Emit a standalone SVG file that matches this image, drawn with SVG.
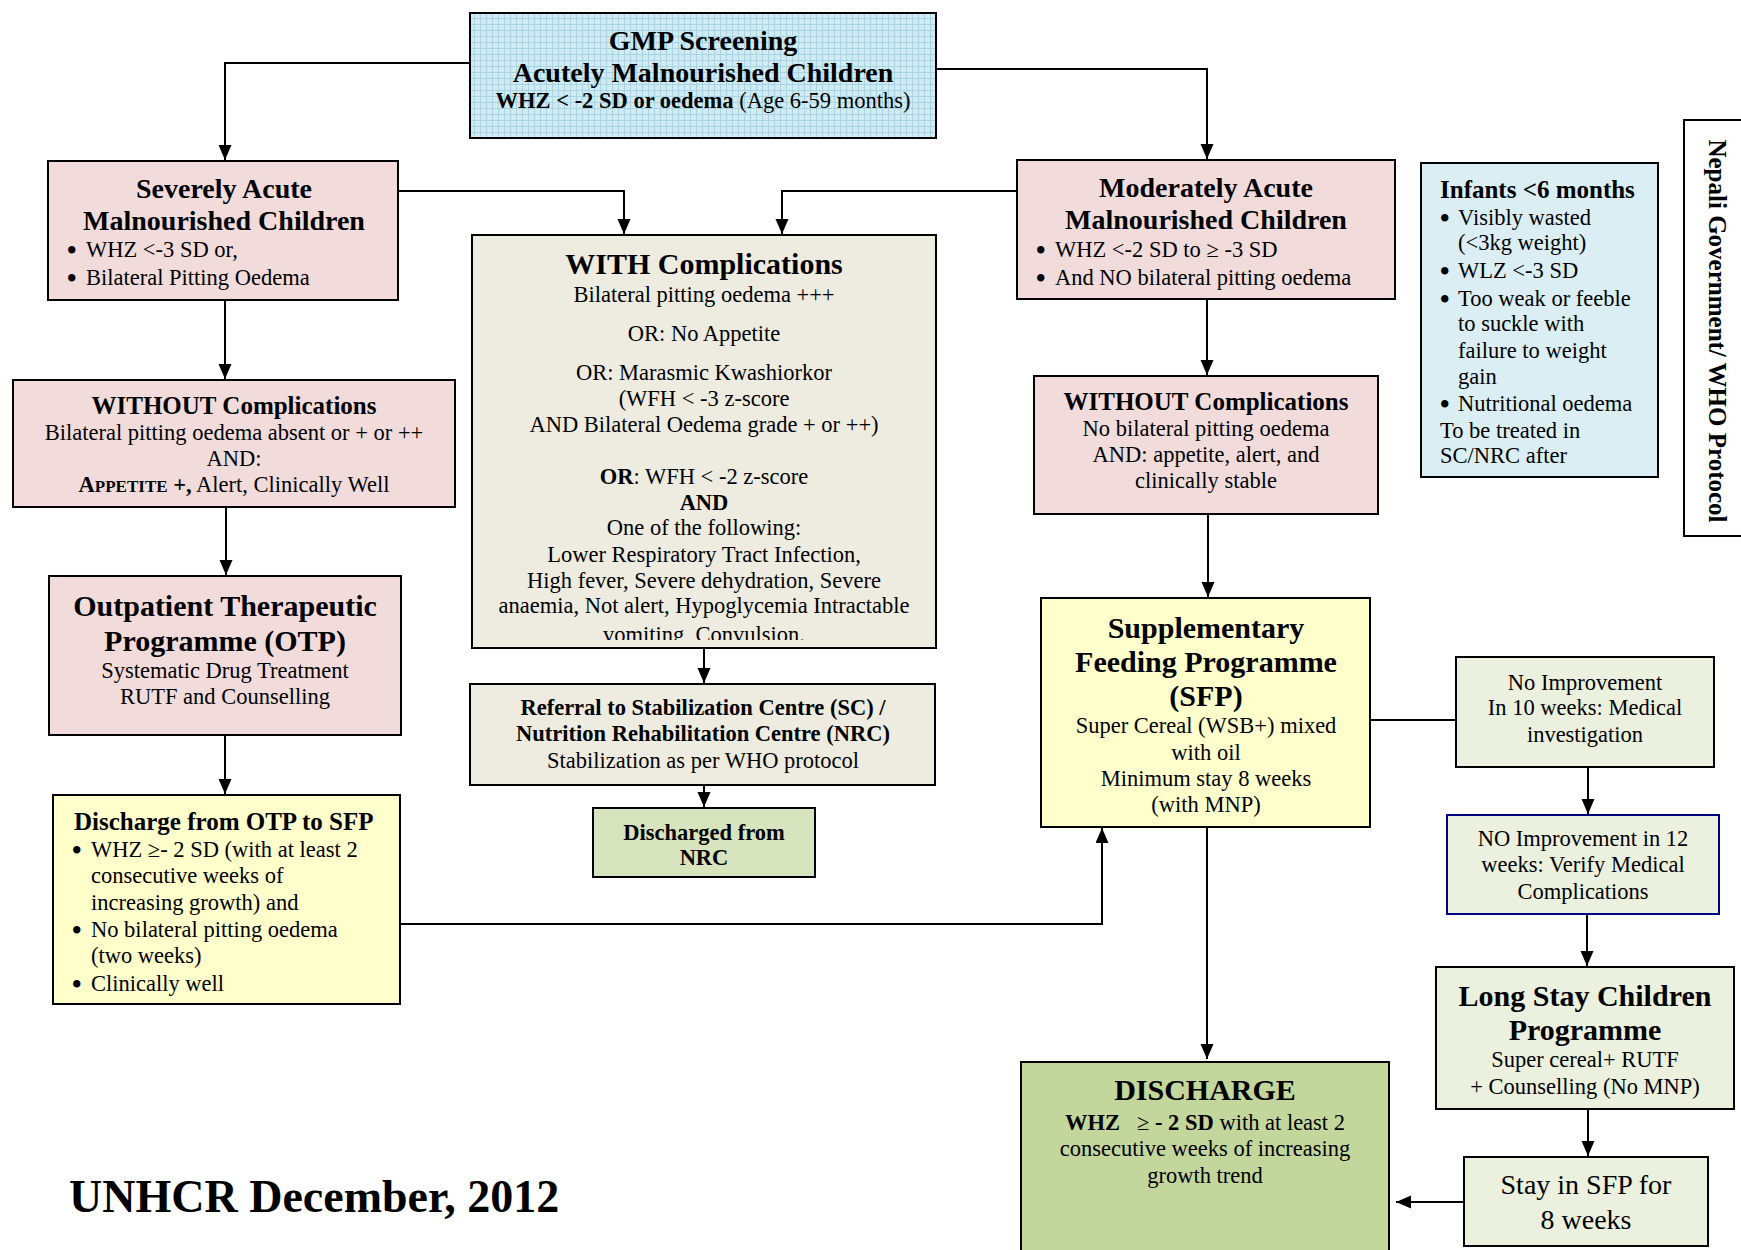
<svg xmlns="http://www.w3.org/2000/svg" width="1741" height="1250" viewBox="0 0 1741 1250">
<style>
.bx{stroke:#000;stroke-width:2}
.pink{fill:#f2dcdb}
.beige{fill:#eeece1}
.yel{fill:#ffffcc}
.lg{fill:#ebf1de}
.mg{fill:#d7e4bd}
.dg{fill:#c3d69b}
.lb{fill:#dbeef4}
text{font-family:"Liberation Serif","Times New Roman",serif;font-size:22.5px;fill:#000}
.c{text-anchor:middle}
.b{font-weight:bold}
.bul{font-size:27px;font-weight:bold}
.h25{font-size:25px;font-weight:bold}
.h28{font-size:28px;font-weight:bold}
.h30{font-size:30px;font-weight:bold}
.ln{fill:none;stroke:#000;stroke-width:2}
</style>
<defs>
<pattern id="grid" width="6" height="6" patternUnits="userSpaceOnUse">
<rect width="6" height="6" fill="#d2ebf3"/>
<path d="M0,0.5H6M0.5,0V6" stroke="#a9d4e3" stroke-width="1"/>
</pattern>
<marker id="ah" markerUnits="userSpaceOnUse" markerWidth="16" markerHeight="14" refX="15" refY="6.5" orient="auto">
<path d="M0,0 L15,6.5 L0,13 Z" fill="#000"/>
</marker>
<clipPath id="withclip"><rect x="472" y="235" width="464" height="405"/></clipPath>
</defs>
<rect width="1741" height="1250" fill="#fff"/>

<g id="connectors">
<path class="ln" d="M470,63 H225 V160" marker-end="url(#ah)"/>
<path class="ln" d="M936,69 H1207 V159" marker-end="url(#ah)"/>
<path class="ln" d="M398,191 H624 V234" marker-end="url(#ah)"/>
<path class="ln" d="M1017,191 H782 V234" marker-end="url(#ah)"/>
<path class="ln" d="M225,300 V379" marker-end="url(#ah)"/>
<path class="ln" d="M226,507 V575" marker-end="url(#ah)"/>
<path class="ln" d="M225,735 V794" marker-end="url(#ah)"/>
<path class="ln" d="M400,924 H1102 V828" marker-end="url(#ah)"/>
<path class="ln" d="M704,648 V683" marker-end="url(#ah)"/>
<path class="ln" d="M704,785 V807" marker-end="url(#ah)"/>
<path class="ln" d="M1207,299 V375" marker-end="url(#ah)"/>
<path class="ln" d="M1208,514 V597" marker-end="url(#ah)"/>
<path class="ln" d="M1370,720 H1456"/>
<path class="ln" d="M1588,767 V814" marker-end="url(#ah)"/>
<path class="ln" d="M1587,914 V966" marker-end="url(#ah)"/>
<path class="ln" d="M1588,1109 V1156" marker-end="url(#ah)"/>
<path class="ln" d="M1464,1202 H1396" marker-end="url(#ah)"/>
<path class="ln" d="M1207,827 V1059" marker-end="url(#ah)"/>
</g>

<g id="gmp">
<rect class="bx" x="470" y="13" width="466" height="125" fill="url(#grid)"/>
<text class="c h28" x="703" y="50">GMP Screening</text>
<text class="c h28" x="703" y="82">Acutely Malnourished Children</text>
<text class="c" x="703" y="108"><tspan class="b">WHZ &lt; -2 SD or oedema</tspan> (Age 6-59 months)</text>
</g>

<g id="severe">
<rect class="bx pink" x="48" y="161" width="350" height="139"/>
<text class="c h28" x="224" y="198">Severely Acute</text>
<text class="c h28" x="224" y="230">Malnourished Children</text>
<text class="bul" x="67" y="259">•</text><text x="86" y="257">WHZ &lt;-3 SD or,</text>
<text class="bul" x="67" y="287">•</text><text x="86" y="285">Bilateral Pitting Oedema</text>
</g>

<g id="moderate">
<rect class="bx pink" x="1017" y="160" width="378" height="139"/>
<text class="c h28" x="1206" y="197">Moderately Acute</text>
<text class="c h28" x="1206" y="229">Malnourished Children</text>
<text class="bul" x="1036" y="259">•</text><text x="1055" y="257">WHZ &lt;-2 SD to ≥ -3 SD</text>
<text class="bul" x="1036" y="287">•</text><text x="1055" y="285">And NO bilateral pitting oedema</text>
</g>

<g id="infants">
<rect class="bx lb" x="1421" y="163" width="237" height="314"/>
<text class="h25" x="1440" y="198">Infants &lt;6 months</text>
<text class="bul" x="1440" y="227">•</text><text x="1458" y="225">Visibly wasted</text>
<text x="1458" y="250">(&lt;3kg weight)</text>
<text class="bul" x="1440" y="280">•</text><text x="1458" y="278">WLZ &lt;-3 SD</text>
<text class="bul" x="1440" y="308">•</text><text x="1458" y="306">Too weak or feeble</text>
<text x="1458" y="331">to suckle with</text>
<text x="1458" y="358">failure to weight</text>
<text x="1458" y="384">gain</text>
<text class="bul" x="1440" y="413">•</text><text x="1458" y="411">Nutritional oedema</text>
<text x="1440" y="438">To be treated in</text>
<text x="1440" y="463">SC/NRC after</text>
</g>

<g id="nepali">
<rect x="1684" y="120" width="70" height="416" fill="#fff" stroke="#000" stroke-width="2"/>
<text class="c h25" transform="translate(1709,331) rotate(90)">Nepali Government/ WHO Protocol</text>
</g>

<g id="with-complications">
<rect class="bx beige" x="472" y="235" width="464" height="413"/>
<g clip-path="url(#withclip)">
<text class="c h30" x="704" y="274">WITH Complications</text>
<text class="c" x="704" y="302">Bilateral pitting oedema +++</text>
<text class="c" x="704" y="341">OR: No Appetite</text>
<text class="c" x="704" y="380">OR: Marasmic Kwashiorkor</text>
<text class="c" x="704" y="406">(WFH &lt; -3 z-score</text>
<text class="c" x="704" y="432">AND Bilateral Oedema grade + or ++)</text>
<text class="c" x="704" y="484"><tspan class="b">OR</tspan>: WFH &lt; -2 z-score</text>
<text class="c b" x="704" y="510">AND</text>
<text class="c" x="704" y="535">One of the following:</text>
<text class="c" x="704" y="562">Lower Respiratory Tract Infection,</text>
<text class="c" x="704" y="588">High fever, Severe dehydration, Severe</text>
<text class="c" x="704" y="613">anaemia, Not alert, Hypoglycemia Intractable</text>
<text class="c" x="704" y="642">vomiting, Convulsion.</text>
</g>
</g>

<g id="without-left">
<rect class="bx pink" x="13" y="380" width="442" height="127"/>
<text class="c h25" x="234" y="414">WITHOUT Complications</text>
<text class="c" x="234" y="440">Bilateral pitting oedema absent or + or ++</text>
<text class="c" x="234" y="466">AND:</text>
<text class="c" x="234" y="492"><tspan class="b">A</tspan><tspan class="b" style="font-size:17px">PPETITE</tspan><tspan class="b"> +,</tspan> Alert, Clinically Well</text>
</g>

<g id="otp">
<rect class="bx pink" x="49" y="576" width="352" height="159"/>
<text class="c h30" x="225" y="616">Outpatient Therapeutic</text>
<text class="c h30" x="225" y="651">Programme (OTP)</text>
<text class="c" x="225" y="678">Systematic Drug Treatment</text>
<text class="c" x="225" y="704">RUTF and Counselling</text>
</g>

<g id="discharge-otp">
<rect class="bx yel" x="53" y="795" width="347" height="209"/>
<text class="h25" x="74" y="830">Discharge from OTP to SFP</text>
<text class="bul" x="72" y="859">•</text><text x="91" y="857">WHZ ≥- 2 SD (with at least 2</text>
<text x="91" y="883">consecutive weeks of</text>
<text x="91" y="910">increasing growth) and</text>
<text class="bul" x="72" y="939">•</text><text x="91" y="937">No bilateral pitting oedema</text>
<text x="91" y="963">(two weeks)</text>
<text class="bul" x="72" y="993">•</text><text x="91" y="991">Clinically well</text>
</g>

<g id="referral">
<rect class="bx beige" x="470" y="684" width="465" height="101"/>
<text class="c b" x="703" y="715">Referral to Stabilization Centre (SC) /</text>
<text class="c b" x="703" y="741">Nutrition Rehabilitation Centre (NRC)</text>
<text class="c" x="703" y="768">Stabilization as per WHO protocol</text>
</g>

<g id="discharged-nrc">
<rect class="bx mg" x="593" y="808" width="222" height="69"/>
<text class="c b" x="704" y="840">Discharged from</text>
<text class="c b" x="704" y="865">NRC</text>
</g>

<g id="without-right">
<rect class="bx pink" x="1034" y="376" width="344" height="138"/>
<text class="c h25" x="1206" y="410">WITHOUT Complications</text>
<text class="c" x="1206" y="436">No bilateral pitting oedema</text>
<text class="c" x="1206" y="462">AND: appetite, alert, and</text>
<text class="c" x="1206" y="488">clinically stable</text>
</g>

<g id="sfp">
<rect class="bx yel" x="1041" y="598" width="329" height="229"/>
<text class="c h30" x="1206" y="638">Supplementary</text>
<text class="c h30" x="1206" y="672">Feeding Programme</text>
<text class="c h30" x="1206" y="706">(SFP)</text>
<text class="c" x="1206" y="733">Super Cereal (WSB+) mixed</text>
<text class="c" x="1206" y="760">with oil</text>
<text class="c" x="1206" y="786">Minimum stay 8 weeks</text>
<text class="c" x="1206" y="812">(with MNP)</text>
</g>

<g id="no-improvement-10">
<rect class="bx lg" x="1456" y="657" width="258" height="110"/>
<text class="c" x="1585" y="690">No Improvement</text>
<text class="c" x="1585" y="715">In 10 weeks: Medical</text>
<text class="c" x="1585" y="742">investigation</text>
</g>

<g id="no-improvement-12">
<rect class="lg" x="1447" y="815" width="272" height="99" stroke="#000080" stroke-width="2"/>
<text class="c" x="1583" y="846">NO Improvement in 12</text>
<text class="c" x="1583" y="872">weeks: Verify Medical</text>
<text class="c" x="1583" y="899">Complications</text>
</g>

<g id="long-stay">
<rect class="bx lg" x="1436" y="967" width="298" height="142"/>
<text class="c h30" x="1585" y="1006">Long Stay Children</text>
<text class="c h30" x="1585" y="1040">Programme</text>
<text class="c" x="1585" y="1067">Super cereal+ RUTF</text>
<text class="c" x="1585" y="1094">+ Counselling (No MNP)</text>
</g>

<g id="stay-sfp">
<rect class="bx lg" x="1464" y="1157" width="244" height="89"/>
<text class="c" x="1586" y="1194" style="font-size:28px">Stay in SFP for</text>
<text class="c" x="1586" y="1229" style="font-size:28px">8 weeks</text>
</g>

<g id="discharge">
<rect class="bx dg" x="1021" y="1062" width="368" height="200"/>
<text class="c h30" x="1205" y="1100">DISCHARGE</text>
<text class="c" x="1205" y="1130"><tspan class="b">WHZ</tspan><tspan dx="17">≥</tspan><tspan class="b"> - 2 SD</tspan> with at least 2</text>
<text class="c" x="1205" y="1156">consecutive weeks of increasing</text>
<text class="c" x="1205" y="1183">growth trend</text>
</g>

<g id="footer">
<text class="b" x="69" y="1212" style="font-size:46px">UNHCR December, 2012</text>
</g>
</svg>
